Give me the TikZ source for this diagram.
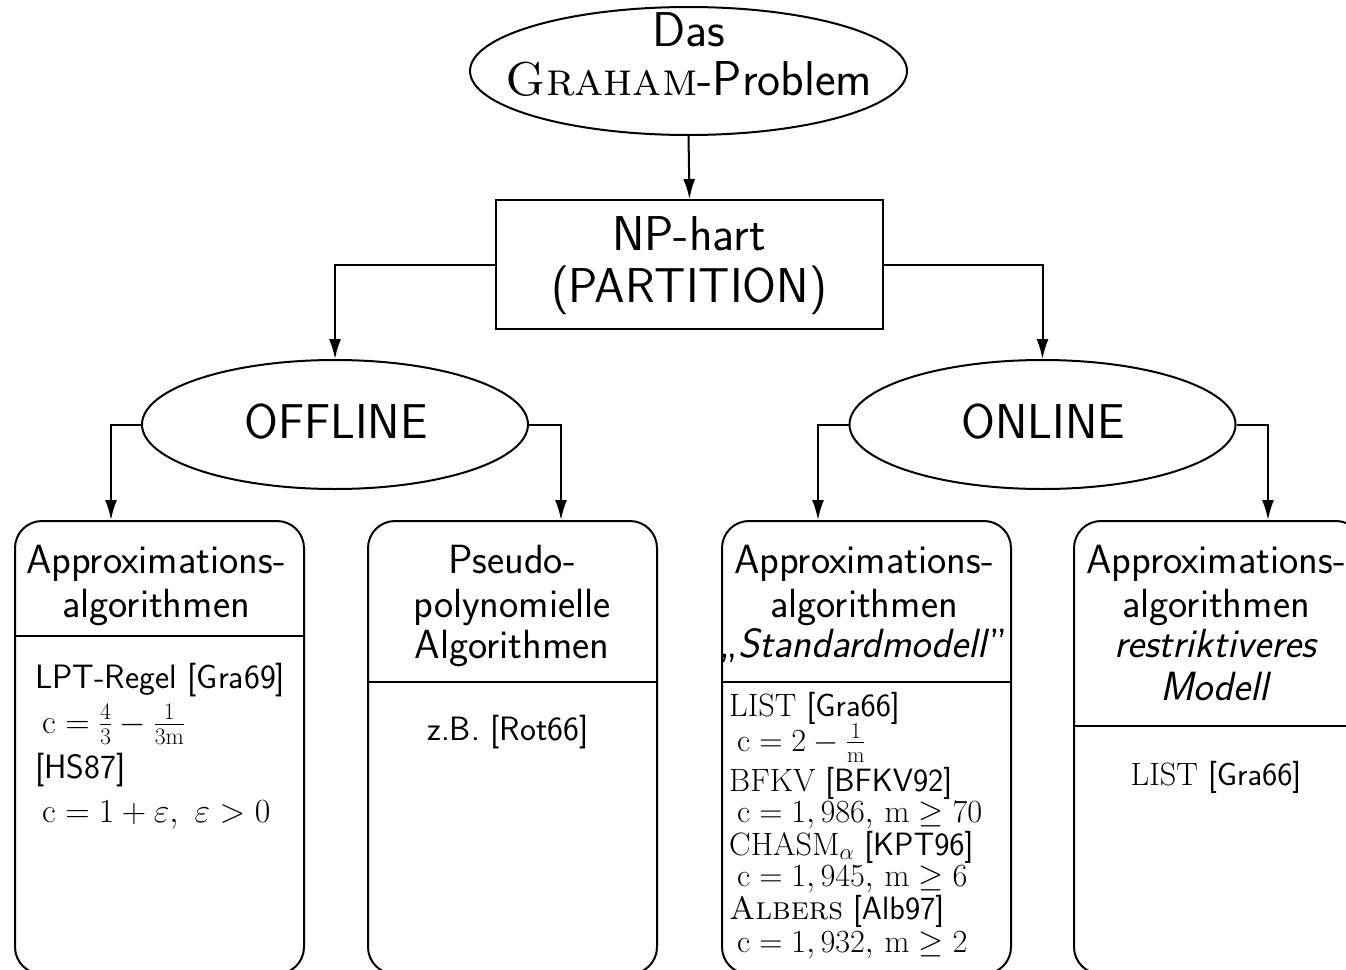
\RequirePackage{fix-cm}
\documentclass[tikz,border=0pt]{standalone}
\usepackage{amsmath}
\usetikzlibrary{arrows.meta,shapes.geometric}
\newcommand\myLarge{\fontsize{48.9}{54}\selectfont}
\newcommand\mylarge{\fontsize{40.8}{46}\selectfont}
\newcommand\mynormal{\fontsize{33.8}{39}\selectfont}
\newcommand\mysmaller{\fontsize{32.3}{37}\selectfont}
\tikzset{
  shp/.style={draw, line width=2pt, inner sep=0pt},
  ell/.style={shp, ellipse},
  rbox/.style={shp, rectangle, rounded corners=27pt, minimum width=289pt, minimum height=453pt},
  sqbox/.style={shp, rectangle, minimum width=387pt, minimum height=129pt},
  conn/.style={line width=2pt, -{Latex[length=20pt,width=12pt]}},
  divider/.style={line width=1.3pt},
  tL/.style={inner sep=0pt, anchor=base, font=\sffamily\myLarge},
  tM/.style={inner sep=0pt, anchor=base, font=\sffamily\mylarge},
  tN/.style={inner sep=0pt, anchor=base, font=\sffamily\mynormal},
  tNw/.style={inner sep=0pt, anchor=base west, font=\sffamily\mynormal},
  tSw/.style={inner sep=0pt, anchor=base west, font=\sffamily\mysmaller},
  tS/.style={inner sep=0pt, anchor=base, font=\sffamily\mysmaller},
}
\begin{document}
\begin{tikzpicture}[x=1pt,y=-1pt]
\useasboundingbox (0,0) rectangle (1346,969);
% shapes
\node[ell, minimum width=437pt, minimum height=128pt] (top) at (688.5,71) {};
\node[sqbox] (np) at (689.5,264.5) {};
\node[ell, minimum width=386pt, minimum height=129pt] (off) at (335,424.5) {};
\node[ell, minimum width=386pt, minimum height=129pt] (on) at (1042.5,424.5) {};
\node[rbox] (b1) at (159.5,747.5) {};
\node[rbox] (b2) at (512.5,747.5) {};
\node[rbox] (b3) at (866.5,747.5) {};
\node[rbox] (b4) at (1218.5,747.5) {};
% dividers
\draw[divider] ([yshift=-116pt]b1.north west) -- ([yshift=-116pt]b1.north east);
\draw[divider] ([yshift=-162pt]b2.north west) -- ([yshift=-162pt]b2.north east);
\draw[divider] ([yshift=-162pt]b3.north west) -- ([yshift=-162pt]b3.north east);
\draw[divider] ([yshift=-206pt]b4.north west) -- ([yshift=-206pt]b4.north east);
% connectors
\draw[conn] (top.south) -- (np.north);
\draw[conn] (np.west) -| (off.north);
\draw[conn] (np.east) -| (on.north);
\draw[conn] (off.west) -| ([xshift=-48.5pt]b1.north);
\draw[conn] (off.east) -| ([xshift=48.5pt]b2.north);
\draw[conn] (on.west) -| ([xshift=-48.5pt]b3.north);
\draw[conn] (on.east) -| ([xshift=49.5pt]b4.north);
% texts top
\node[tL] (topa) at (689,46) {Das};
\node[tL] (topb) at (689,95) {{\fontsize{47.5}{54}\selectfont\rmfamily\textsc{Graham}}-Problem};
\node[tL] (npa) at (689,250) {NP-hart};
\node[tL] (npb) at (689,302) {(PARTITION)};
\node[tL] (offt) at (336,438) {OFFLINE};
\node[tL] (ont) at (1043,438) {ONLINE};
% box 1
\node[tM] (h1a) at (156,573) {Approximations-};
\node[tM] (h1b) at (156,617) {algorithmen};
\node[tNw] (l1a) at (35,688) {LPT-Regel [Gra69]};
\node[tNw] (l1b) at (42,733) {$\mathrm{c}=\frac{4}{3}-\frac{1}{3\mathrm{m}}$};
\node[tNw] (l1c) at (35,778) {[HS87]};
\node[tNw] (l1d) at (42,822) {$\mathrm{c}=1+\varepsilon,\ \varepsilon>0$};
% box 2
\node[tM] (h2a) at (512,573) {Pseudo-};
\node[tM] (h2b) at (512,617) {polynomielle};
\node[tM] (h2c) at (512,658) {Algorithmen};
\node[tN] (l2a) at (508,740) {z.B. [Rot66]};
% box 3
\node[tM] (h3a) at (864,573) {Approximations-};
\node[tM] (h3b) at (864,617) {algorithmen};
\node[tM] (h3c) at (864,657) {,,\textit{Standardmodell}''};
\node[tSw] (l3a) at (729,716) {{\rmfamily LIST} [Gra66]};
\node[tSw] (l3b) at (737,751) {$\mathrm{c}=2-\frac{1}{\mathrm{m}}$};
\node[tSw] (l3c) at (729,791) {{\rmfamily BFKV} [BFKV92]};
\node[tSw] (l3d) at (737,822) {$\mathrm{c}=1,986,\,\mathrm{m}\geq 70$};
\node[tSw] (l3e) at (729,855) {{\rmfamily CHASM}$_{\alpha}$ [KPT96]};
\node[tSw] (l3f) at (737,886) {$\mathrm{c}=1,945,\,\mathrm{m}\geq 6$};
\node[tSw] (l3g) at (729,919) {{\rmfamily\textsc{Albers}} [Alb97]};
\node[tSw] (l3h) at (737,952) {$\mathrm{c}=1,932,\,\mathrm{m}\geq 2$};
% box 4
\node[tM] (h4a) at (1216,573) {Approximations-};
\node[tM] (h4b) at (1216,617) {algorithmen};
\node[tM] (h4c) at (1216,657) {\textit{restriktiveres}};
\node[tM] (h4d) at (1216,700) {\textit{Modell}};
\node[tS] (l4a) at (1216,785) {{\rmfamily LIST} [Gra66]};
\end{tikzpicture}
\end{document}
